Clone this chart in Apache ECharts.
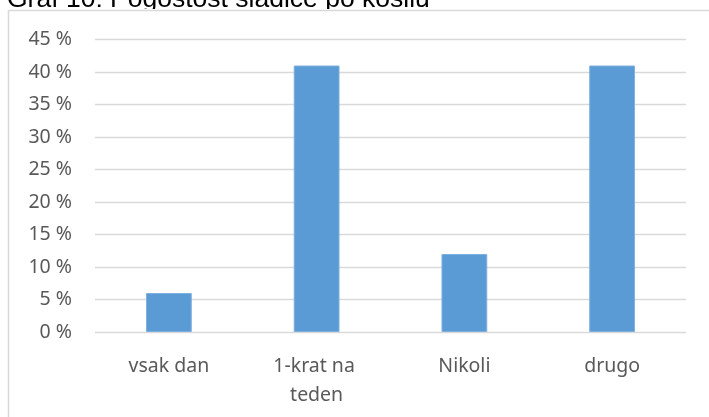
<!DOCTYPE html>
<html><head><meta charset="utf-8">
<script src="https://cdn.jsdelivr.net/npm/echarts@6/dist/echarts.min.js"></script>
<style>html,body{margin:0;padding:0;background:#fff}#c{width:709px;height:417px}</style>
</head><body><div id="c"></div>
<script>
const titleText = 'Graf 10: Pogostost sladice po kosilu';
const categories = ['vsak dan', '1-krat na teden', 'Nikoli', 'drugo'];
const values = [6, 41, 12, 41];
const yMin = 0, yMax = 45, yStep = 5;

const chart = echarts.init(document.getElementById('c'), null, {renderer: 'canvas'});
chart.setOption({
  animation: false,
  backgroundColor: '#fff',
  graphic: [
    {type: 'text', x: 7, y: 0, z: 1, style: {text: titleText, font: '26.5px "Liberation Sans", Arial, sans-serif', fill: '#000', verticalAlign: 'middle', align: 'left'}},
    {type: 'rect', z: 2, shape: {x: 0, y: 9, width: 720, height: 12}, style: {fill: '#fff'}, silent: true},
    {type: 'rect', z: 3, shape: {x: 8.5, y: 10.5, width: 720, height: 420}, style: {fill: 'none', stroke: '#d9d9d9', lineWidth: 1.5}, silent: true}
  ],
  grid: {left: 95, right: 23, top: 39.5, bottom: 85},
  xAxis: {
    type: 'category', data: categories,
    axisLine: {show: false}, axisTick: {show: false},
    axisLabel: {color: '#595959', fontFamily: 'Noto Sans', fontSize: 19.5, margin: 20, lineHeight: 29, width: 110, overflow: 'break', interval: 0}
  },
  yAxis: {
    type: 'value', min: yMin, max: yMax, interval: yStep,
    axisLine: {show: false}, axisTick: {show: false},
    splitLine: {lineStyle: {color: '#d9d9d9', width: 1.3}},
    axisLabel: {color: '#595959', fontFamily: 'Noto Sans', fontSize: 19.5, margin: 23, formatter: v => v + ' %'}
  },
  series: [{
    type: 'bar', data: values, barWidth: '31%',
    itemStyle: {color: '#5b9bd5', borderColor: '#7eb0df', borderWidth: 1}
  }]
});
</script></body></html>
